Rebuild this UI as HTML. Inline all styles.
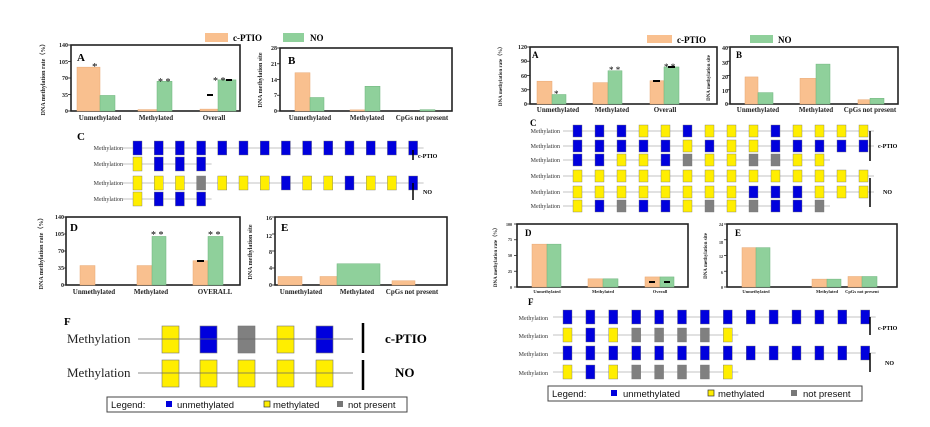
<!DOCTYPE html>
<html><head><meta charset="utf-8"><style>
html,body{margin:0;padding:0;background:#fff;}
svg{display:block;font-family:"Liberation Serif",serif;}
.t{font-size:6px;font-weight:bold;fill:#222}
.xl{font-size:7px;font-weight:bold;fill:#222}
.yt{font-size:6px;font-weight:bold;fill:#222}
.m{font-size:6px;fill:#333}
.big{font-size:11px;font-weight:bold}
.lg{font-family:"Liberation Sans",sans-serif;font-size:9.5px;fill:#111}
</style></head><body>
<svg id="s" width="930" height="427" viewBox="0 0 930 427" xmlns="http://www.w3.org/2000/svg">
<rect width="930" height="427" fill="#fff"/>
<g id="g"></g>
<!-- Left legend -->
<rect x="205" y="33" width="23" height="9" fill="#f9c08f"/>
<text x="233" y="41" style="font-size:9px;font-weight:bold">c-PTIO</text>
<rect x="283" y="33" width="21" height="9" fill="#8fd09b"/>
<text x="310" y="41" style="font-size:9px;font-weight:bold">NO</text>
<!-- Right legend -->
<rect x="647" y="35" width="25" height="8" fill="#f9c08f"/>
<text x="677" y="43" style="font-size:9px;font-weight:bold">c-PTIO</text>
<rect x="750" y="35" width="23" height="8" fill="#8fd09b"/>
<text x="778" y="43" style="font-size:9px;font-weight:bold">NO</text>

<!-- Left A -->
<text x="77" y="61" class="big">A</text>
<text class="t" text-anchor="end" x="68" y="47">140</text><text class="t" text-anchor="end" x="68" y="64">105</text><text class="t" text-anchor="end" x="68" y="80">70</text><text class="t" text-anchor="end" x="68" y="97">35</text><text class="t" text-anchor="end" x="68" y="113">0</text>
<text class="yt" transform="translate(45,78) rotate(-90)" text-anchor="middle">DNA methylation rate（%）</text>
<text class="xl" x="100" y="120" text-anchor="middle">Unmethylated</text><text class="xl" x="156" y="120" text-anchor="middle">Methylated</text><text class="xl" x="214" y="120" text-anchor="middle">Overall</text>
<text x="92" y="70" style="font-size:11px">*</text><text x="158" y="85" style="font-size:10px">* *</text><text x="213" y="84" style="font-size:10px">* *</text>
<!-- Left B -->
<text x="288" y="64" class="big">B</text>
<text class="t" text-anchor="end" x="277" y="50">28</text><text class="t" text-anchor="end" x="277" y="66">21</text><text class="t" text-anchor="end" x="277" y="82">14</text><text class="t" text-anchor="end" x="277" y="97">7</text><text class="t" text-anchor="end" x="277" y="113">0</text>
<text class="yt" transform="translate(262,80) rotate(-90)" text-anchor="middle">DNA methylation site</text>
<text class="xl" x="310" y="120" text-anchor="middle">Unmethylated</text><text class="xl" x="367" y="120" text-anchor="middle">Methylated</text><text class="xl" x="422" y="120" text-anchor="middle">CpGs not present</text>
<!-- Left C -->
<text x="77" y="140" class="big">C</text>
<text class="m" x="123" y="150" text-anchor="end">Methylation</text><text class="m" x="123" y="166" text-anchor="end">Methylation</text><text class="m" x="123" y="185" text-anchor="end">Methylation</text><text class="m" x="123" y="201" text-anchor="end">Methylation</text>
<line x1="413" y1="150" x2="413" y2="160" stroke="#000" stroke-width="1.5"/><text x="418" y="158" style="font-size:6px;font-weight:bold">c-PTIO</text>
<line x1="413" y1="183" x2="413" y2="200" stroke="#000" stroke-width="1.5"/><text x="423" y="194" style="font-size:6px;font-weight:bold">NO</text>

<!-- Right A -->
<text x="532" y="58" class="big" style="font-size:9px">A</text>
<text class="t" text-anchor="end" x="527" y="49">120</text><text class="t" text-anchor="end" x="527" y="63">90</text><text class="t" text-anchor="end" x="527" y="78">60</text><text class="t" text-anchor="end" x="527" y="92">30</text><text class="t" text-anchor="end" x="527" y="106">0</text>
<text class="yt" transform="translate(502,75) rotate(-90)" text-anchor="middle" style="font-size:5px">DNA methylation rate（%）</text>
<text class="xl" x="558" y="112" text-anchor="middle">Unmethylated</text><text class="xl" x="612" y="112" text-anchor="middle">Methylated</text><text class="xl" x="665" y="112" text-anchor="middle">Overall</text>
<text x="554" y="97" style="font-size:9px">*</text><text x="609" y="73" style="font-size:9px">* *</text><text x="664" y="70" style="font-size:9px">* *</text>
<!-- Right B -->
<text x="736" y="58" class="big" style="font-size:9px">B</text>
<text class="t" text-anchor="end" x="728" y="50">40</text><text class="t" text-anchor="end" x="728" y="65">30</text><text class="t" text-anchor="end" x="728" y="79">20</text><text class="t" text-anchor="end" x="728" y="93">10</text><text class="t" text-anchor="end" x="728" y="106">0</text>
<text class="yt" transform="translate(710,78) rotate(-90)" text-anchor="middle" style="font-size:5px">DNA methylation site</text>
<text class="xl" x="758" y="112" text-anchor="middle">Unmethylated</text><text class="xl" x="816" y="112" text-anchor="middle">Methylated</text><text class="xl" x="870" y="112" text-anchor="middle">CpGs not present</text>
<!-- Right C -->
<text x="530" y="126" class="big" style="font-size:9px">C</text>
<text class="m" x="560" y="133" text-anchor="end">Methylation</text><text class="m" x="560" y="148" text-anchor="end">Methylation</text><text class="m" x="560" y="162" text-anchor="end">Methylation</text><text class="m" x="560" y="178" text-anchor="end">Methylation</text><text class="m" x="560" y="194" text-anchor="end">Methylation</text><text class="m" x="560" y="208" text-anchor="end">Methylation</text>
<line x1="870" y1="131" x2="870" y2="161" stroke="#000" stroke-width="1.5"/><text x="878" y="148" style="font-size:6px;font-weight:bold">c-PTIO</text>
<line x1="870" y1="178" x2="870" y2="207" stroke="#000" stroke-width="1.5"/><text x="883" y="194" style="font-size:6px;font-weight:bold">NO</text>

<!-- Left D -->
<text x="70" y="231" class="big">D</text>
<text class="t" text-anchor="end" x="64" y="219">140</text><text class="t" text-anchor="end" x="64" y="236">105</text><text class="t" text-anchor="end" x="64" y="253">70</text><text class="t" text-anchor="end" x="64" y="270">35</text><text class="t" text-anchor="end" x="64" y="287">0</text>
<text class="yt" transform="translate(43,252) rotate(-90)" text-anchor="middle">DNA methylation rate（%）</text>
<text class="xl" x="94" y="294" text-anchor="middle">Unmethylated</text><text class="xl" x="151" y="294" text-anchor="middle">Methylated</text><text class="xl" x="215" y="294" text-anchor="middle">OVERALL</text>
<text x="151" y="238" style="font-size:10px">* *</text><text x="208" y="238" style="font-size:10px">* *</text>
<!-- Left E -->
<text x="281" y="231" class="big">E</text>
<text class="t" text-anchor="end" x="272" y="220">16</text><text class="t" text-anchor="end" x="272" y="238">12</text><text class="t" text-anchor="end" x="272" y="254">8</text><text class="t" text-anchor="end" x="272" y="270">4</text><text class="t" text-anchor="end" x="272" y="287">0</text>
<text class="yt" transform="translate(252,252) rotate(-90)" text-anchor="middle">DNA methylation site</text>
<text class="xl" x="301" y="294" text-anchor="middle">Unmethylated</text><text class="xl" x="357" y="294" text-anchor="middle">Methylated</text><text class="xl" x="412" y="294" text-anchor="middle">CpGs not present</text>
<!-- Left F -->
<text x="64" y="325" class="big">F</text>
<line x1="138" y1="339" x2="353" y2="339" stroke="#666" stroke-width="0.8"/>
<line x1="138" y1="373" x2="353" y2="373" stroke="#666" stroke-width="0.8"/>
<text x="67" y="343" style="font-size:13px;fill:#222">Methylation</text>
<text x="67" y="377" style="font-size:13px;fill:#222">Methylation</text>
<line x1="363" y1="323" x2="363" y2="353" stroke="#000" stroke-width="2.5"/>
<line x1="363" y1="360" x2="363" y2="390" stroke="#000" stroke-width="2.5"/>
<text x="385" y="343" style="font-size:13px;font-weight:bold">c-PTIO</text>
<text x="395" y="377" style="font-size:13px;font-weight:bold">NO</text>
<rect x="107" y="397" width="300" height="15" fill="#fff" stroke="#444" stroke-width="1"/>
<text class="lg" x="111" y="408">Legend:</text>
<rect x="166" y="401" width="6" height="6" fill="#0000dd"/><text class="lg" x="177" y="408">unmethylated</text>
<rect x="264" y="401" width="6" height="6" fill="#ffee00" stroke="#333" stroke-width="0.7"/><text class="lg" x="273" y="408">methylated</text>
<rect x="337" y="401" width="6" height="6" fill="#777"/><text class="lg" x="348" y="408">not present</text>

<!-- Right D -->
<text x="525" y="236" class="big" style="font-size:9px">D</text>
<text class="t" text-anchor="end" x="512" y="226" style="font-size:4px">100</text><text class="t" text-anchor="end" x="512" y="241" style="font-size:4px">75</text><text class="t" text-anchor="end" x="512" y="257" style="font-size:4px">50</text><text class="t" text-anchor="end" x="512" y="273" style="font-size:4px">25</text><text class="t" text-anchor="end" x="512" y="289" style="font-size:4px">0</text>
<text class="yt" transform="translate(497,256) rotate(-90)" text-anchor="middle" style="font-size:5px">DNA methylation rate（%）</text>
<text class="xl" x="547" y="293" text-anchor="middle" style="font-size:4.5px">Unmethylated</text><text class="xl" x="603" y="293" text-anchor="middle" style="font-size:4.5px">Methylated</text><text class="xl" x="660" y="293" text-anchor="middle" style="font-size:4.5px">Overall</text>
<!-- Right E -->
<text x="735" y="236" class="big" style="font-size:9px">E</text>
<text class="t" text-anchor="end" x="723" y="226" style="font-size:4px">24</text><text class="t" text-anchor="end" x="723" y="244" style="font-size:4px">18</text><text class="t" text-anchor="end" x="723" y="258" style="font-size:4px">12</text><text class="t" text-anchor="end" x="723" y="274" style="font-size:4px">6</text><text class="t" text-anchor="end" x="723" y="289" style="font-size:4px">0</text>
<text class="yt" transform="translate(707,256) rotate(-90)" text-anchor="middle" style="font-size:5px">DNA methylation site</text>
<text class="xl" x="756" y="293" text-anchor="middle" style="font-size:4.5px">Unmethylated</text><text class="xl" x="827" y="293" text-anchor="middle" style="font-size:4.5px">Methylated</text><text class="xl" x="862" y="293" text-anchor="middle" style="font-size:4.5px">CpGs not present</text>
<!-- Right F -->
<text x="528" y="305" class="big" style="font-size:9px">F</text>
<text class="m" x="548" y="320" text-anchor="end">Methylation</text><text class="m" x="548" y="338" text-anchor="end">Methylation</text><text class="m" x="548" y="356" text-anchor="end">Methylation</text><text class="m" x="548" y="375" text-anchor="end">Methylation</text>
<line x1="870" y1="317" x2="870" y2="335" stroke="#000" stroke-width="1.5"/><text x="878" y="330" style="font-size:6px;font-weight:bold">c-PTIO</text>
<line x1="870" y1="353" x2="870" y2="372" stroke="#000" stroke-width="1.5"/><text x="885" y="365" style="font-size:6px;font-weight:bold">NO</text>
<rect x="548" y="386" width="314" height="15" fill="#fff" stroke="#444" stroke-width="1"/>
<text class="lg" x="552" y="397">Legend:</text>
<rect x="611" y="390" width="6" height="6" fill="#0000dd"/><text class="lg" x="623" y="397">unmethylated</text>
<rect x="708" y="390" width="6" height="6" fill="#ffee00" stroke="#333" stroke-width="0.7"/><text class="lg" x="718" y="397">methylated</text>
<rect x="791" y="390" width="6" height="6" fill="#777"/><text class="lg" x="803" y="397">not present</text>
</svg>
<script>
var g=document.getElementById('g'),NS='http://www.w3.org/2000/svg';
function R(x,y,w,h,f,s,sw){var r=document.createElementNS(NS,'rect');r.setAttribute('x',x);r.setAttribute('y',y);r.setAttribute('width',w);r.setAttribute('height',h);r.setAttribute('fill',f||'none');if(s){r.setAttribute('stroke',s);r.setAttribute('stroke-width',sw||1);}g.appendChild(r);}
function L(x1,y1,x2,y2,c,w){var l=document.createElementNS(NS,'line');l.setAttribute('x1',x1);l.setAttribute('y1',y1);l.setAttribute('x2',x2);l.setAttribute('y2',y2);l.setAttribute('stroke',c);l.setAttribute('stroke-width',w);g.appendChild(l);}
var O='#f9c08f',G='#8fd09b';
function chart(x0,y0,x1,y1,max,ticks,bars){
 R(x0,y0,x1-x0,y1-y0,'none','#222',1.6);
 for(var i=0;i<=ticks;i++){var y=y1-(y1-y0)*i/ticks;L(x0-3,y,x0,y,'#222',0.8);}
 bars.forEach(function(b){var h=(y1-y0)*b[2]/max;R(b[0],y1-h,b[1]-b[0],h,b[3],b[3]==O?'#e8a772':'#6fb47d',0.5);});
}
chart(71,45,240,111,140,4,[[77,100,93,O],[100,115,33,G],[138,157,3,O],[157,172,63,G],[200,218,4,O],[218,236,66,G]]);
R(207,94,6,2,'#000');R(226,79,6,2,'#000');
chart(280,48,452,111,28,4,[[295,310,17,O],[310,324,6,G],[350,365,0.5,O],[365,380,11,G],[420,435,0.6,G]]);
chart(530,47,717,104,120,4,[[537,552,48,O],[552,566,20,G],[593,608,45,O],[608,622,70,G],[650,664,49,O],[664,679,78,G]]);
R(653,80,7,2,'#000');R(668,66,7,2,'#000');
chart(730,47,898,104,40,4,[[745,758,19,O],[758,773,8,G],[800,816,18,O],[816,830,28,G],[858,870,3,O],[870,884,4,G]]);
chart(66,217,240,285,140,4,[[80,95,40,O],[137,152,40,O],[152,166,100,G],[193,208,50,O],[208,223,100,G]]);
R(197,260,7,2,'#000');
chart(275,217,447,285,16,4,[[278,302,2,O],[320,337,2,O],[337,380,5,G],[392,415,1,O]]);
chart(517,224,688,287,100,4,[[532,547,68,O],[547,561,68,G],[588,603,13,O],[603,618,13,G],[645,660,16,O],[660,674,16,G]]);
R(649,281,6,2,'#000');R(664,281,6,2,'#000');
chart(727,224,897,287,24,4,[[742,756,15,O],[756,770,15,G],[812,827,3,O],[827,841,3,G],[848,862,4,O],[862,877,4,G]]);
var C={B:'#0000dd',Y:'#ffee00',G:'#808080'};
function row(x0,y,step,w,h,s){L(x0-10,y,x0+(s.length-1)*step+w+6,y,'#888',0.6);for(var i=0;i<s.length;i++){R(x0+i*step,y-h/2,w,h,C[s[i]],'#777',0.4);}}
row(133,148,21.2,9,14,'BBBBBBBBBBBBBB');row(133,164,21.2,9,14,'YBBB');row(133,183,21.2,9,14,'YYYGYYYBYYBYYB');row(133,199,21.2,9,14,'YBBB');
row(573,131,22,9,12,'BBBYYBYYYBYYYY');row(573,146,22,9,12,'BBBBBYBYYBBBBB');row(573,160,22,9,12,'BBYYBGYYGGYY');
row(573,176,22,9,12,'YYYYYYYYYYYYYY');row(573,192,22,9,12,'YYYYYYYYBBBYYY');row(573,206,22,9,12,'YBGBBYGYGBBG');
row(563,317,22.9,9,14,'BBBBBBBBBBBBBB');row(563,335,22.9,9,14,'YBYGGGGY');row(563,353,22.9,9,14,'BBBBBBBBBBBBBB');row(563,372,22.9,9,14,'YBYGGGGY');
[162,200,238,277,316].forEach(function(x,i){R(x,326,17,27,['#ffee00','#0000dd','#808080','#ffee00','#0000dd'][i],'#777',0.6);R(x,360,17,27,'#ffee00','#777',0.6);});
</script>
</body></html>
